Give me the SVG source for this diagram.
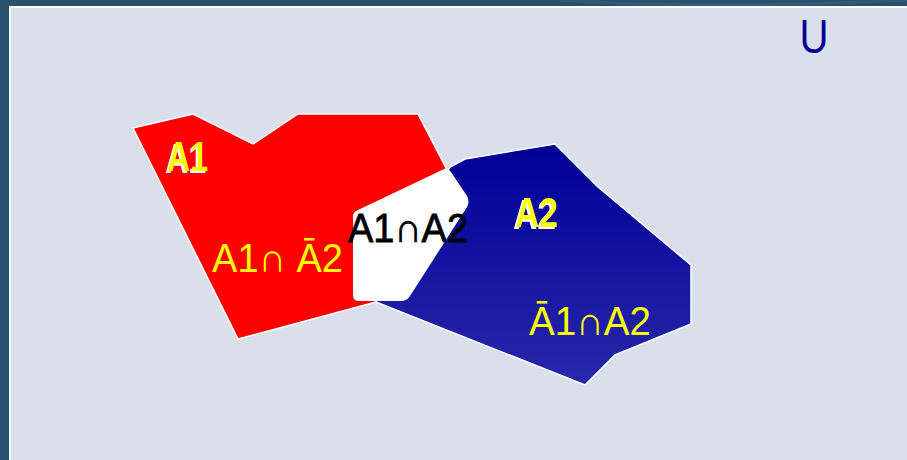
<svg xmlns="http://www.w3.org/2000/svg" width="907" height="460" viewBox="0 0 907 460">
<defs>
<linearGradient id="blueGrad" x1="0" y1="0" x2="0" y2="1">
<stop offset="0" stop-color="#000096"/>
<stop offset="1" stop-color="#2828aa"/>
</linearGradient>
<filter id="whiteShadow" x="-20%" y="-20%" width="140%" height="140%">
<feOffset in="SourceAlpha" dx="-2" dy="2" result="off"/>
<feFlood flood-color="#ffffff"/>
<feComposite in2="off" operator="in" result="sh"/>
<feMerge><feMergeNode in="sh"/><feMergeNode in="SourceGraphic"/></feMerge>
</filter>
<style>
.lbl{font-family:"Liberation Sans",Arial,sans-serif;}
.bold{font-weight:bold;}
.yel{fill:#ffff00;}
.shape{stroke:#ffffff;stroke-width:1.5;stroke-linejoin:miter;}
</style>
</defs>
<rect x="0" y="0" width="907" height="460" fill="#27526e"/>
<path d="M560 0 Q700 10 907 0" stroke="#3a6683" stroke-width="3" fill="none" opacity="0.5"/>
<rect x="9" y="6" width="898" height="454" fill="#ffffff"/>
<rect x="11" y="8" width="896" height="452" fill="#d9e0eb"/>

<g id="U"><text class="lbl" x="814" y="53" font-size="48" fill="#000099" text-anchor="middle" textLength="29" lengthAdjust="spacingAndGlyphs">U</text></g>

<g id="A1set">
<polygon class="shape" fill="#ff0000" points="133,128 193,114 253,144 298,114 418,114 446,168 420,250 376,302 238,339"/>
</g>
<g id="A2set">
<polygon class="shape" fill="url(#blueGrad)" points="450,167 465,159 555,144 598,187 691,265 691,324 615,355 585,385 376,302 410,240"/>
</g>
<g id="intersection">
<path fill="#ffffff" d="M358 210 L442 170 Q448 167 451 172 L467 196 Q470 202 467 207 L410 296 Q407 301 401 301 L359 301 Q353 301 353 295 L353 216 Q353 212 358 210 Z"/>
</g>

<g id="labelA1">
<text class="lbl bold yel" x="167" y="171" font-size="43" textLength="41" lengthAdjust="spacingAndGlyphs" filter="url(#whiteShadow)">A1</text>
</g>
<g id="labelA2">
<text class="lbl bold yel" x="515" y="227" font-size="42" textLength="43" lengthAdjust="spacingAndGlyphs" filter="url(#whiteShadow)">A2</text>
</g>
<g id="labelInter">
<text class="lbl" x="348" y="242" font-size="41" fill="#000000" stroke="#000000" stroke-width="0.8" textLength="120" lengthAdjust="spacingAndGlyphs">A1∩A2</text>
</g>
<g id="labelA1notA2">
<text class="lbl yel" x="212" y="272" font-size="41" textLength="131" lengthAdjust="spacingAndGlyphs">A1∩ Ā2</text>
</g>
<g id="labelNotA1A2">
<text class="lbl yel" x="529" y="335" font-size="40" textLength="122" lengthAdjust="spacingAndGlyphs">Ā1∩A2</text>
</g>
</svg>
